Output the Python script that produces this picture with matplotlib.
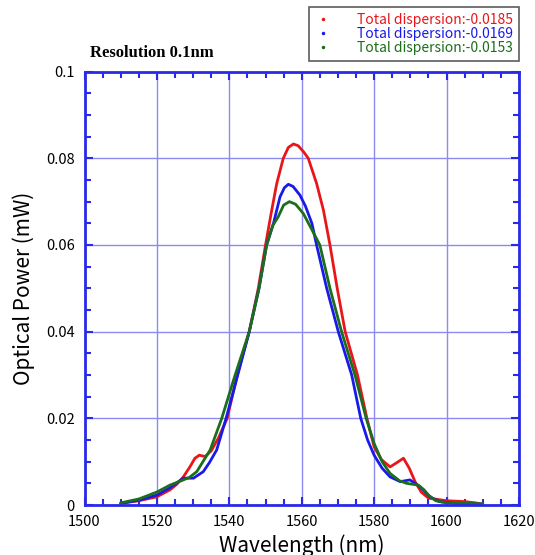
import matplotlib
matplotlib.use("Agg")
import matplotlib.pyplot as plt
from matplotlib.lines import Line2D
from matplotlib.ticker import MultipleLocator, FuncFormatter

plt.rcParams['font.family'] = ['Noto Sans CJK JP', 'DejaVu Sans']

red_x = [1510, 1515, 1520, 1523.6, 1525.5, 1527.3, 1529.1, 1530.5, 1531.7, 1533.3, 1535, 1537, 1539.4,
         1542.2, 1545.5, 1548, 1550, 1551.7, 1553.1, 1554.9, 1556.3, 1557.7, 1559, 1560.5, 1561.8,
         1564.1, 1566, 1567.8, 1569.8, 1572, 1575.4, 1578, 1580, 1582, 1584.4, 1586.3, 1588.1, 1589.7,
         1591.3, 1593, 1595, 1600, 1605, 1608, 1610]
red_y = [0.0004, 0.0010, 0.0019, 0.0035, 0.0048, 0.0065, 0.0088, 0.0108, 0.0115, 0.0112, 0.0125, 0.0155,
         0.0200, 0.0300, 0.0400, 0.0500, 0.0600, 0.0680, 0.0742, 0.0800, 0.0825, 0.0833, 0.0829, 0.0815,
         0.0800, 0.0742, 0.0680, 0.0600, 0.0500, 0.0400, 0.0300, 0.0200, 0.0134, 0.0105, 0.0088, 0.0098,
         0.0108, 0.0085, 0.0054, 0.0030, 0.0016, 0.0010, 0.0008, 0.0005, 0.0002]

blue_x = [1510, 1515, 1520, 1523.6, 1527.3, 1530.1, 1532.8, 1534.5, 1536.5, 1539.1, 1542, 1545.5, 1548.2,
          1550.3, 1552.2, 1554, 1555.2, 1556.3, 1557.6, 1559.5, 1561, 1562.8, 1564.1, 1566.9, 1570.1,
          1573.8, 1576.3, 1578.2, 1580, 1582.2, 1584.4, 1587.2, 1589.9, 1592.7, 1595.4, 1598, 1602, 1608]
blue_y = [0.0004, 0.0011, 0.0023, 0.0040, 0.0062, 0.0062, 0.0077, 0.0098, 0.0127, 0.0200, 0.0290, 0.0400,
          0.0500, 0.0600, 0.0650, 0.0711, 0.0732, 0.0740, 0.0735, 0.0715, 0.0690, 0.0650, 0.0600, 0.0500,
          0.0400, 0.0300, 0.0200, 0.0150, 0.0115, 0.0085, 0.0065, 0.0054, 0.0058, 0.0042, 0.0019, 0.0008,
          0.0004, 0.0002]

green_x = [1510, 1515, 1520, 1523.6, 1527.3, 1529, 1531, 1534.7, 1537.9, 1541.6, 1545.5, 1548.2, 1550.3,
           1552, 1553.5, 1555, 1556.6, 1558.3, 1560.4, 1562.5, 1565, 1567.8, 1571, 1574.7, 1577.8, 1580,
           1582.2, 1584.4, 1587, 1589, 1592.2, 1593.8, 1595, 1597, 1600, 1605, 1610]
green_y = [0.0005, 0.0014, 0.0030, 0.0046, 0.0058, 0.0064, 0.0077, 0.0127, 0.0200, 0.0300, 0.0400, 0.0500,
           0.0600, 0.0645, 0.0665, 0.0692, 0.0700, 0.0694, 0.0673, 0.0640, 0.0600, 0.0500, 0.0400, 0.0300,
           0.0200, 0.0142, 0.0100, 0.0073, 0.0056, 0.0050, 0.0046, 0.0035, 0.0023, 0.0010, 0.0005, 0.0004,
           0.0003]

labels = ["Total dispersion:-0.0185", "Total dispersion:-0.0169", "Total dispersion:-0.0153"]
colors = ["#e8161b", "#1a1ae8", "#1b6e1b"]

fig = plt.figure(figsize=(5.35, 5.55), dpi=100)
ax = fig.add_axes([0.158, 0.090, 0.812, 0.781])

axis_blue = "#2a2ae6"
grid_blue = "#8c8cf0"

ax.set_xlim(1500, 1620)
ax.set_ylim(0, 0.1)
ax.xaxis.set_major_locator(MultipleLocator(20))
ax.xaxis.set_minor_locator(MultipleLocator(5))
ax.yaxis.set_major_locator(MultipleLocator(0.02))
ax.yaxis.set_minor_locator(MultipleLocator(0.005))
ax.yaxis.set_major_formatter(FuncFormatter(lambda v, p: "0" if abs(v) < 1e-9 else ("%g" % round(v, 3))))

ax.grid(True, which='major', color=grid_blue, linewidth=1.0)
ax.set_axisbelow(True)
for s in ax.spines.values():
    s.set_color(axis_blue)
    s.set_linewidth(2.0)
ax.tick_params(which='both', direction='in', top=True, right=True, color=axis_blue,
               labelsize=10.5, labelcolor='black')
ax.tick_params(which='major', length=6, width=1.5, pad=7)
ax.tick_params(which='minor', length=4, width=1.5)

for xs, ys, c in [(red_x, red_y, colors[0]), (blue_x, blue_y, colors[1]), (green_x, green_y, colors[2])]:
    ax.plot(xs, ys, color=c, linewidth=2.0, solid_capstyle='round', solid_joinstyle='round')

ax.set_xlabel("Wavelength (nm)", fontsize=15, labelpad=4)
ax.set_ylabel("Optical Power (mW)", fontsize=15, labelpad=8)

fig.text(0.168, 0.905, "Resolution 0.1nm", fontsize=12, fontweight='bold',
         family='Liberation Serif', ha='left', va='center')

handles = [Line2D([], [], linestyle='none', marker='.', markersize=3, color=c) for c in colors]
leg = fig.legend(handles, labels, loc='upper right', bbox_to_anchor=(0.971, 0.988),
                 frameon=True, fancybox=False, edgecolor='#333333',
                 handlelength=1.0, handletextpad=2.0, borderpad=0.45, labelspacing=0.0,
                 borderaxespad=0, prop={'family': ['Noto Sans CJK JP', 'DejaVu Sans'], 'size': 10})
leg.get_frame().set_linewidth(1.2)
for t, c in zip(leg.get_texts(), colors):
    t.set_color(c)

fig.savefig("out.png", dpi=100)
